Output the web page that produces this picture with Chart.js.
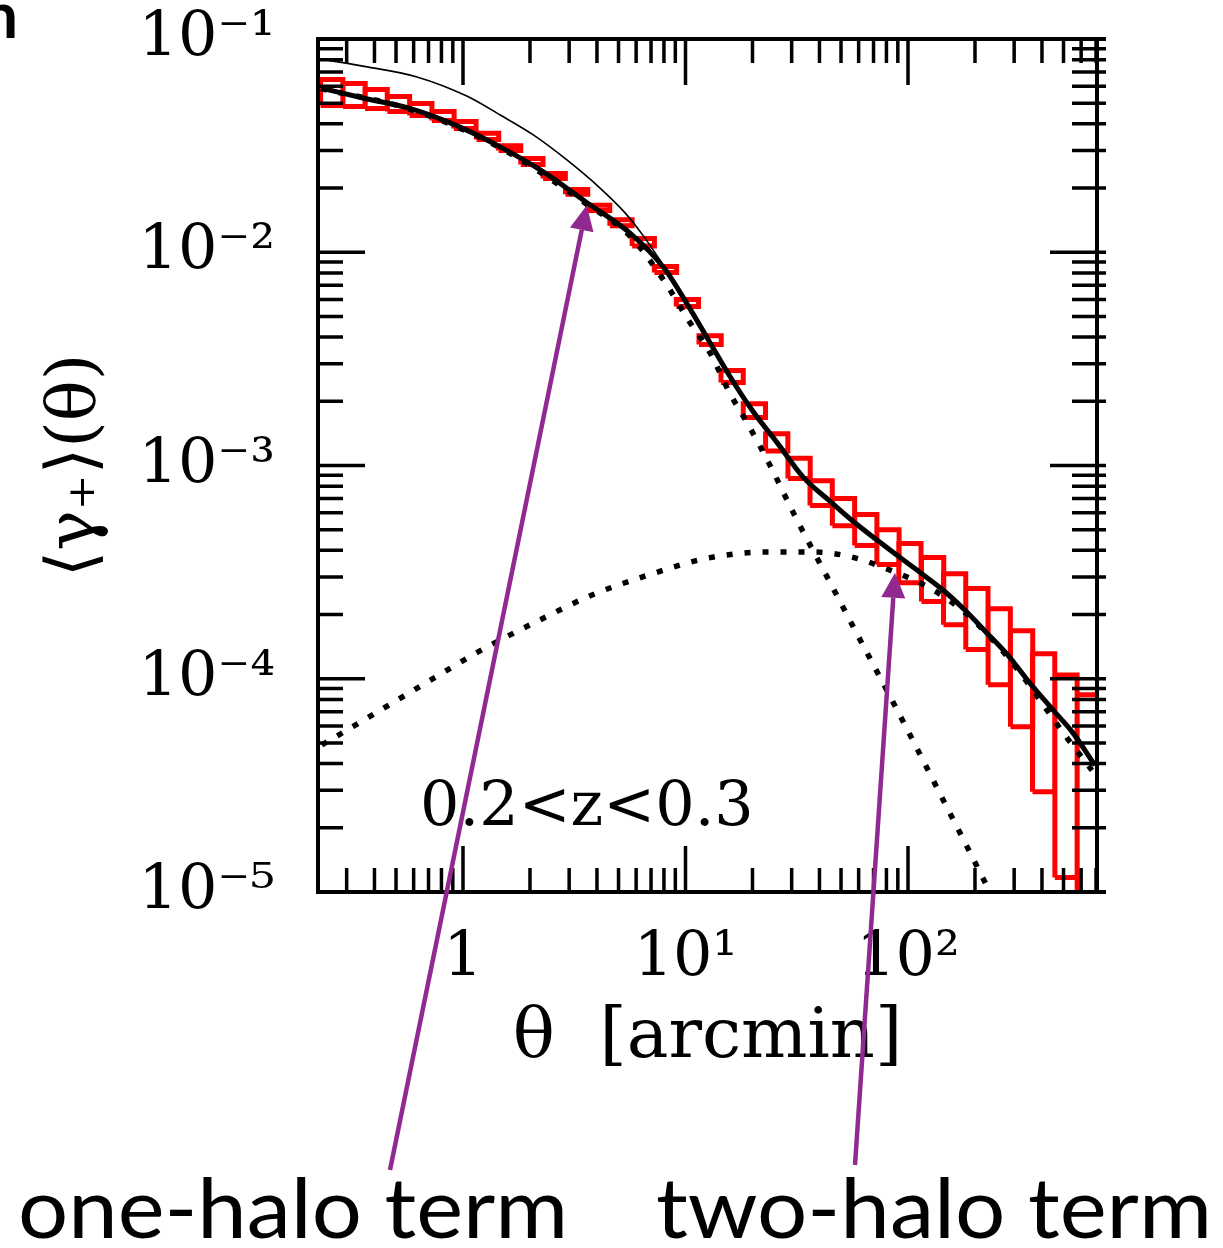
<!DOCTYPE html>
<html>
<head>
<meta charset="utf-8">
<title>Tangential shear profile, 0.2&lt;z&lt;0.3</title>
<script src="https://cdn.jsdelivr.net/npm/chart.js@4.4.1/dist/chart.umd.min.js"></script>
<style>
  html, body { margin: 0; padding: 0; background: #fff; }
  canvas { display: block; }
</style>
</head>
<body>
<canvas id="shearChart" width="1223" height="1248"></canvas>
<script>
"use strict";

// measured shear, one box per 0.1 dex bin (box height = error range)
const binTheta = [0.257, 0.324, 0.407, 0.513, 0.646, 0.813, 1.02, 1.29, 1.62, 2.04,
  2.57, 3.24, 4.07, 5.13, 6.46, 8.13, 10.2, 12.9, 16.2, 20.4,
  25.7, 32.4, 40.7, 51.3, 64.6, 81.3, 102, 129, 162, 204,
  257, 324, 407, 513, 646];
const binHigh = [0.0646, 0.0618, 0.0579, 0.0537, 0.0498, 0.0457, 0.0410, 0.0361, 0.0316, 0.0275,
  0.0234, 0.0197, 0.0166, 0.0142, 0.0116, 0.00857, 0.00600, 0.00406, 0.00279, 0.00195,
  0.00141, 0.00108, 0.000849, 0.000700, 0.000589, 0.000500, 0.000431, 0.000370, 0.000311, 0.000265,
  0.000213, 0.000168, 0.000131, 0.000104, 0.0000841];
const binLow = [0.0488, 0.0482, 0.0472, 0.0457, 0.0438, 0.0415, 0.0380, 0.0338, 0.0300, 0.0258,
  0.0222, 0.0187, 0.0157, 0.0133, 0.0107, 0.00804, 0.00556, 0.00369, 0.00245, 0.00168,
  0.00117, 0.000869, 0.000649, 0.000522, 0.000421, 0.000343, 0.000282, 0.000230, 0.000179, 0.000137,
  0.0000938, 0.0000596, 0.0000295, 0.0000117, 0.000003];
const binHalfDex = 0.05;

// total model (thick solid)
const totalTheta = [0.230, 0.355, 0.566, 0.902, 1.42, 2.27, 3.57, 5.63, 8.01, 10.05,
  12.6, 15.8, 19.9, 25.8, 33.7, 44.6, 56.6, 72.6, 90.2, 113,
  144, 180, 226, 281, 353, 449, 552, 692];
const totalShear = [0.0589, 0.0529, 0.0475, 0.0399, 0.0318, 0.0240, 0.0172, 0.0123, 0.00843, 0.00584,
  0.00392, 0.00263, 0.00182, 0.00128, 0.000885, 0.000680, 0.000548, 0.000447, 0.000376, 0.000316,
  0.000260, 0.000210, 0.000164, 0.000129, 0.0000954, 0.0000713, 0.0000556, 0.0000393];

// thin solid curve
const thinTheta = [0.230, 0.371, 0.621, 1.04, 1.47, 2.07, 2.93, 4.13, 5.35, 6.44, 7.84];
const thinShear = [0.0805, 0.0740, 0.0664, 0.0540, 0.0440, 0.0355, 0.0271, 0.0200, 0.0153, 0.0120, 0.00890];

// one-halo term (dotted)
const oneHaloTheta = [0.230, 0.566, 1.42, 3.57, 5.63, 8.01, 10.3, 12.9, 15.8, 19.5,
  24.0, 31.7, 42.4, 57.8, 77.3, 104, 139, 186, 234, 260];
const oneHaloShear = [0.0585, 0.0471, 0.0315, 0.0169, 0.0119, 0.00735, 0.00481, 0.00337, 0.00219, 0.00150,
  0.00100, 0.000555, 0.000313, 0.000169, 0.0000953, 0.0000526, 0.0000290, 0.0000160, 0.00000998, 0.0000082];

// two-halo term (dotted)
const twoHaloTheta = [0.232, 0.390, 0.689, 1.19, 2.11, 3.80, 6.78, 12.6, 23.5, 37.1,
  56.0, 83.0, 123, 171, 239, 312, 400, 508, 671];
const twoHaloShear = [0.0000489, 0.0000675, 0.0000963, 0.000135, 0.000184, 0.000247, 0.000306, 0.000368, 0.000393, 0.000393,
  0.000372, 0.000323, 0.000269, 0.000214, 0.000153, 0.000110, 0.0000769, 0.0000543, 0.0000372];

const xTickValues = [1, 10, 100];
const xTickLabels = ["1", "10\u00B9", "10\u00B2"];
const yTickValues = [1e-5, 1e-4, 1e-3, 1e-2, 1e-1];
const yTickLabels = ["10\u207B\u2075", "10\u207B\u2074", "10\u207B\u00B3", "10\u207B\u00B2", "10\u207B\u00B9"];

const redshiftLabel = "0.2<z<0.3";
const redshiftAt = { theta: 0.641, shear: 2.06e-5 };

const oneHaloTip = { theta: 3.60, shear: 0.0166 };
const twoHaloTip = { theta: 87.4, shear: 3.14e-4 };

const serif = "'DejaVu Serif', 'Liberation Serif', serif";
const purple = "#912a90";

function toPoints(xs, ys) {
  return xs.map((x, i) => ({ x: x, y: ys[i] }));
}

// each bin becomes a closed rectangle, separated by a gap
function boxPoints() {
  const pts = [];
  const f = Math.pow(10, binHalfDex);
  binTheta.forEach((t, i) => {
    const x0 = t / f, x1 = t * f;
    pts.push({ x: x0, y: binLow[i] }, { x: x0, y: binHigh[i] }, { x: x1, y: binHigh[i] },
      { x: x1, y: binLow[i] }, { x: x0, y: binLow[i] }, { x: t, y: null });
  });
  return pts;
}

function minorValues(min, max) {
  const out = [];
  for (let d = Math.floor(Math.log10(min)); d <= Math.ceil(Math.log10(max)); d++) {
    for (let m = 1; m <= 9; m++) {
      const v = m * Math.pow(10, d);
      if (v >= min * 0.999 && v <= max * 1.001) out.push({ v: v, major: m === 1 });
    }
  }
  return out;
}

// box frame with inward ticks on all four sides
const framePlugin = {
  id: "frame",
  afterDatasetsDraw(chart) {
    const { ctx, chartArea: a, scales } = chart;
    const x = scales.x, y = scales.y;
    const ext = 9;
    ctx.save();
    ctx.strokeStyle = "#000";
    ctx.lineWidth = 3.5;
    ctx.beginPath();
    minorValues(x.min, x.max).forEach(t => {
      const px = x.getPixelForValue(t.v);
      const len = t.major ? 46 : 24;
      ctx.moveTo(px, a.bottom); ctx.lineTo(px, a.bottom - len);
      ctx.moveTo(px, a.top); ctx.lineTo(px, a.top + len);
    });
    minorValues(y.min, y.max).forEach(t => {
      const py = y.getPixelForValue(t.v);
      const len = t.major ? 47 : 25;
      ctx.moveTo(a.left, py); ctx.lineTo(a.left + len, py);
      ctx.moveTo(a.right + ext, py); ctx.lineTo(a.right - len, py);
    });
    ctx.stroke();
    ctx.lineWidth = 4;
    ctx.beginPath();
    ctx.moveTo(a.right + ext, a.top); ctx.lineTo(a.left, a.top);
    ctx.lineTo(a.left, a.bottom); ctx.lineTo(a.right + ext, a.bottom);
    ctx.moveTo(a.right, a.top); ctx.lineTo(a.right, a.bottom);
    ctx.stroke();
    ctx.restore();
  }
};

function drawArrow(ctx, x0, y0, x1, y1) {
  const ang = Math.atan2(y1 - y0, x1 - x0);
  const headLen = 25, headHalf = 12;
  const bx = x1 - headLen * Math.cos(ang), by = y1 - headLen * Math.sin(ang);
  ctx.beginPath();
  ctx.moveTo(x0, y0);
  ctx.lineTo(bx, by);
  ctx.stroke();
  ctx.beginPath();
  ctx.moveTo(x1, y1);
  ctx.lineTo(bx + headHalf * Math.sin(ang), by - headHalf * Math.cos(ang));
  ctx.lineTo(bx - headHalf * Math.sin(ang), by + headHalf * Math.cos(ang));
  ctx.closePath();
  ctx.fill();
}

function fitText(ctx, text, left, baseline, width) {
  const w = ctx.measureText(text).width;
  ctx.save();
  ctx.translate(left, baseline);
  ctx.scale(width / w, 1);
  ctx.fillText(text, 0, 0);
  ctx.restore();
}

// redshift label, arrows and the captions under the plot
const notesPlugin = {
  id: "notes",
  afterDraw(chart) {
    const { ctx, scales } = chart;
    const x = scales.x, y = scales.y;
    ctx.save();
    ctx.fillStyle = "#000";
    ctx.font = "62px " + serif;
    ctx.textBaseline = "alphabetic";
    ctx.textAlign = "left";
    ctx.fillText(redshiftLabel, x.getPixelForValue(redshiftAt.theta), y.getPixelForValue(redshiftAt.shear));

    ctx.font = "bold 64px Lato, 'DejaVu Sans', sans-serif";
    ctx.fillText("n", -18, 38);

    ctx.font = "84px Lato, 'Open Sans', sans-serif";
    fitText(ctx, "one-halo term", 18, 1238, 550);
    fitText(ctx, "two-halo term", 656, 1238, 556);

    ctx.strokeStyle = purple;
    ctx.fillStyle = purple;
    ctx.lineWidth = 4.5;
    drawArrow(ctx, 390, 1170, x.getPixelForValue(oneHaloTip.theta), y.getPixelForValue(oneHaloTip.shear));
    drawArrow(ctx, 855, 1165, x.getPixelForValue(twoHaloTip.theta), y.getPixelForValue(twoHaloTip.shear));
    ctx.restore();
  }
};

const tickFont = { family: serif, size: 62 };

new Chart(document.getElementById("shearChart"), {
  type: "line",
  data: {
    datasets: [
      {
        label: "total",
        data: toPoints(totalTheta, totalShear),
        borderColor: "#000",
        borderWidth: 5,
        pointRadius: 0,
        cubicInterpolationMode: "monotone",
        order: 0
      },
      {
        label: "one-halo",
        data: toPoints(oneHaloTheta, oneHaloShear),
        borderColor: "#000",
        borderWidth: 5.5,
        borderDash: [6, 12],
        pointRadius: 0,
        cubicInterpolationMode: "monotone",
        order: 1
      },
      {
        label: "two-halo",
        data: toPoints(twoHaloTheta, twoHaloShear),
        borderColor: "#000",
        borderWidth: 5.5,
        borderDash: [6, 12],
        pointRadius: 0,
        cubicInterpolationMode: "monotone",
        order: 2
      },
      {
        label: "thin",
        data: toPoints(thinTheta, thinShear),
        borderColor: "#000",
        borderWidth: 1.6,
        pointRadius: 0,
        cubicInterpolationMode: "monotone",
        order: 3
      },
      {
        label: "measured",
        data: boxPoints(),
        borderColor: "#ff0000",
        borderWidth: 5,
        borderJoinStyle: "miter",
        pointRadius: 0,
        tension: 0,
        spanGaps: false,
        order: 4
      }
    ]
  },
  options: {
    responsive: false,
    animation: false,
    events: [],
    layout: { padding: { left: 30, top: 39, right: 126, bottom: 167 } },
    plugins: {
      legend: { display: false },
      tooltip: { enabled: false }
    },
    scales: {
      x: {
        type: "logarithmic",
        min: 0.223,
        max: 707,
        afterFit: s => { s.height = 189; s.paddingLeft = 0; s.paddingRight = 0; },
        afterBuildTicks: s => { s.ticks = xTickValues.map(v => ({ value: v })); },
        grid: { display: false, drawTicks: false },
        border: { display: false },
        ticks: {
          autoSkip: false,
          maxRotation: 0,
          padding: 30,
          color: "#000",
          font: tickFont,
          callback: (v, i) => xTickLabels[i]
        },
        title: {
          display: true,
          text: "\u03B8  [arcmin]",
          color: "#000",
          font: { family: serif, size: 70 },
          padding: { top: 0, bottom: 0 }
        }
      },
      y: {
        type: "logarithmic",
        min: 1e-5,
        max: 1e-1,
        afterFit: s => { s.width = 288; s.paddingTop = 0; s.paddingBottom = 0; },
        afterBuildTicks: s => { s.ticks = yTickValues.map(v => ({ value: v })); },
        grid: { display: false, drawTicks: false },
        border: { display: false },
        ticks: {
          autoSkip: false,
          padding: 43,
          color: "#000",
          font: tickFont,
          callback: (v, i) => yTickLabels[i]
        },
        title: {
          display: true,
          text: "\u27E8\u03B3\u208A\u27E9(\u03B8)",
          color: "#000",
          font: { family: serif, size: 68 },
          padding: { top: 6, bottom: 0 }
        }
      }
    }
  },
  plugins: [framePlugin, notesPlugin]
});
</script>
</body>
</html>
